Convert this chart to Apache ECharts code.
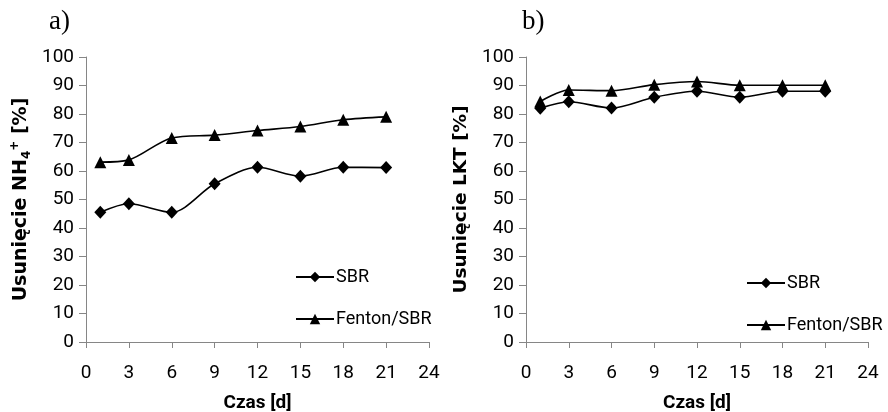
<!DOCTYPE html>
<html><head><meta charset="utf-8">
<script src="https://cdn.jsdelivr.net/npm/echarts@6/dist/echarts.min.js"></script>
<style>html,body{margin:0;padding:0;background:#fff}#c{width:888px;height:412px}</style>
</head><body><div id="c"></div>
<script>
const days = [1, 3, 6, 9, 12, 15, 18, 21];
const nhSBR = [45.5, 48.5, 45.5, 55.5, 61.3, 58.2, 61.3, 61.2];
const nhFenton = [63.1, 63.9, 71.6, 72.6, 74.2, 75.6, 78.0, 79.0];
const lktSBR = [82.0, 84.3, 82.1, 85.9, 88.0, 85.9, 88.0, 88.0];
const lktFenton = [84.4, 88.4, 88.2, 90.3, 91.4, 90.1, 90.1, 90.1];
const xTicks = { min: 0, max: 24, interval: 3 };
const yTicks = { min: 0, max: 100, interval: 10 };
const panelLabels = ['a)', 'b)'];
const yTitles = ['Usunięcie NH{sub|4}{sup|+} [%]', 'Usunięcie LKT [%]'];
const xTitle = 'Czas [d]';
const seriesNames = ['SBR', 'Fenton/SBR'];

const FONT = 'Roboto';
const TFONT = 'DejaVu Sans';
const axisCol = '#868686';
const pairs = (xs, ys) => xs.map((x, i) => [x, ys[i]]);

const grids = [
  { left: 86, top: 57, width: 343, height: 285, containLabel: false, outerBoundsMode: 'none' },
  { left: 526, top: 57, width: 342, height: 285, containLabel: false, outerBoundsMode: 'none' }
];

function xAxis(i) {
  return {
    type: 'value', gridIndex: i, min: xTicks.min, max: xTicks.max, interval: xTicks.interval,
    splitLine: { show: false },
    axisLine: { lineStyle: { color: axisCol, width: 1 } },
    axisTick: { show: true, length: 6, lineStyle: { color: axisCol } },
    axisLabel: { color: '#000', fontFamily: FONT, fontSize: 19, margin: 22 },
    name: xTitle, nameLocation: 'middle', nameGap: 52,
    nameTextStyle: { color: '#000', fontFamily: FONT, fontSize: 19, fontWeight: 'bold' }
  };
}
function yAxis(i) {
  const fs = i === 0 ? 19 : 18.5;
  return {
    type: 'value', gridIndex: i, min: yTicks.min, max: yTicks.max, interval: yTicks.interval,
    splitLine: { show: false },
    axisLine: { show: true, lineStyle: { color: axisCol, width: 1 } },
    axisTick: { show: true, length: 7, lineStyle: { color: axisCol } },
    axisLabel: { color: '#000', fontFamily: FONT, fontSize: 19, margin: 12 },
    name: yTitles[i], nameLocation: 'middle', nameGap: 53, nameRotate: 90,
    nameTextStyle: {
      color: '#000', fontFamily: TFONT, fontSize: fs, fontWeight: 'bold', lineHeight: 24,
      rich: {
        sub: { fontFamily: TFONT, fontSize: 12, fontWeight: 'bold', color: '#000', lineHeight: 12, verticalAlign: 'bottom' },
        sup: { fontFamily: TFONT, fontSize: 12, fontWeight: 'bold', color: '#000', lineHeight: 12, verticalAlign: 'top' }
      }
    }
  };
}
function line(name, i, data, symbol, size) {
  return {
    name, type: 'line', xAxisIndex: i, yAxisIndex: i, data,
    smooth: 0.3, symbol, symbolSize: size,
    lineStyle: { color: '#000', width: 1.6 },
    itemStyle: { color: '#000' },
    animation: false
  };
}
function legend(left, top) {
  return {
    orient: 'vertical', left, top, itemGap: 24, itemWidth: 38, itemHeight: 13,
    data: seriesNames,
    textStyle: { color: '#000', fontFamily: FONT, fontSize: 18, padding: [0, 0, 0, -3] },
    selectedMode: false
  };
}

const chart = echarts.init(document.getElementById('c'), null, { renderer: 'canvas' });
chart.setOption({
  backgroundColor: '#fff',
  animation: false,
  title: [
    { text: panelLabels[0], left: 44, top: 3, textStyle: { fontFamily: 'Liberation Serif', fontSize: 27, fontWeight: 'normal', color: '#000' } },
    { text: panelLabels[1], left: 517, top: 3, textStyle: { fontFamily: 'Liberation Serif', fontSize: 27, fontWeight: 'normal', color: '#000' } }
  ],
  grid: grids,
  xAxis: [xAxis(0), xAxis(1)],
  yAxis: [yAxis(0), yAxis(1)],
  legend: [legend(290, 263), legend(741, 269)],
  series: [
    line(seriesNames[0], 0, pairs(days, nhSBR), 'diamond', [12, 13]),
    line(seriesNames[1], 0, pairs(days, nhFenton), 'triangle', 12),
    line(seriesNames[0], 1, pairs(days, lktSBR), 'diamond', [12, 13]),
    line(seriesNames[1], 1, pairs(days, lktFenton), 'triangle', 12)
  ]
});
</script></body></html>
